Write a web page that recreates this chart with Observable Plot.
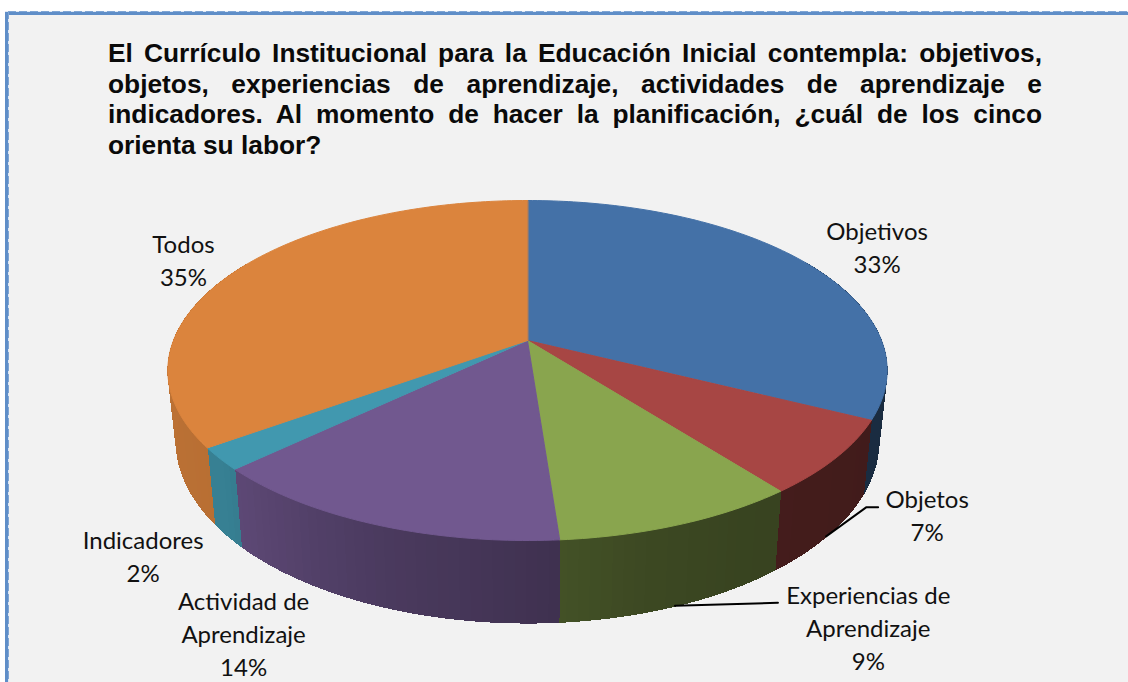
<!DOCTYPE html>
<html lang="es">
<head>
<meta charset="utf-8">
<script src="https://cdn.jsdelivr.net/npm/d3@7"></script>
<script src="https://cdn.jsdelivr.net/npm/@observablehq/plot@0.6"></script>
<style>
html,body{margin:0;padding:0;background:#fff;overflow:hidden;width:1128px;height:682px}
#frame{position:absolute;left:5px;top:11px;width:1123px;height:671px;box-sizing:border-box;
  border-left:4px solid #5f8ec8;border-top:4px solid #5f8ec8;background:#f2f2f2;overflow:hidden}
#dashT,#dashL{position:absolute;pointer-events:none}
#dashT{left:5px;top:11px;width:1123px;height:1px;background:repeating-linear-gradient(90deg,#dfe8f4 0 3px,#7fa5d4 3px 11px)}
#dashL{left:8px;top:11px;width:1px;height:671px;background:repeating-linear-gradient(0deg,#dfe8f4 0 3px,#7fa5d4 3px 11px)}
#title{position:absolute;left:108px;top:38px;width:934px;margin:0;font:bold 26.3px/30.6px "Liberation Sans",Arial,sans-serif;color:#0a0a0a}
#title span{display:block;text-align:justify;text-align-last:justify;white-space:nowrap}
#title span:last-child{text-align-last:left}
#chart{position:absolute;left:9px;top:190px}
#chart svg{display:block}
</style>
</head>
<body>
<div id="frame"></div>
<div id="dashT"></div>
<div id="dashL"></div>
<p id="title"><span>El Currículo Institucional para la Educación Inicial contempla: objetivos,</span><span>objetos, experiencias de aprendizaje, actividades de aprendizaje e</span><span>indicadores. Al momento de hacer la planificación, ¿cuál de los cinco</span><span>orienta su labor?</span></p>
<div id="chart"></div>
<script>
// Data
const categories = ["Objetivos", "Objetos", "Experiencias de\nAprendizaje", "Actividad de\nAprendizaje", "Indicadores", "Todos"];
const percents = [33, 7, 9, 14, 2, 35];

// Styles
const topColors = ["#4471a7", "#a74644", "#89a54e", "#71588f", "#4198af", "#db843d"];
const labelOffsets = [[70, -18], [99, 50], [197, 100], [-128, 109], [-77, 96], [-52, -12]];

// Perspective model of the tilted pie
const cx = 527, cy = 340, A = 354, A2 = 346, B = 164.7, p = 0.1765, D = 68;
const rad = t => t * Math.PI / 180;
// small correction for the picture's lens distortion
const warp = d3.scaleLinear().domain([0, 118.8, 144, 176.4, 226.8, 234, 360]).range([0, 116.5, 142, 175.7, 226.6, 234.2, 360]);
const rimTop = t => {
  const X = Math.sin(rad(t)), Z = Math.cos(rad(t)), d = 1 + p * Z;
  return {x: cx + A * X / d, y: cy - B * Z / d};
};
const rimBottom = t => {
  const X = Math.sin(rad(t)), Z = Math.cos(rad(t)), d = 1 + p * Z;
  return {x: cx + A2 * X / d, y: cy + (D - B * Z) / d};
};
const shade = d3.scaleLinear()
  .domain([60, 120, 150, 165, 176, 177, 200, 230, 270, 300])
  .range([0.36, 0.39, 0.41, 0.44, 0.49, 0.56, 0.66, 0.84, 0.86, 0.86]);
const darken = (c, k) => { const r = d3.rgb(c); return d3.rgb(r.r * k, r.g * k, r.b * k).formatHex(); };

const total = d3.sum(percents);
let cum = 0;
const slices = percents.map((v, i) => {
  const a0 = cum / total * 360; cum += v; const a1 = cum / total * 360;
  return {i, a0, a1, mid: (a0 + a1) / 2, color: topColors[i], label: `${categories[i]}\n${v}%`};
});

const wall = [], face = [];
for (const s of slices) {
  const lo = Math.max(s.a0, 60), hi = Math.min(s.a1, 300);
  for (let t = lo; t < hi; t += 1.5) {
    const u = Math.min(t + 1.5, hi), id = `w${s.i}-${t}`, fill = darken(s.color, shade((t + u) / 2));
    for (const q of [rimTop(warp(t)), rimTop(warp(u)), rimBottom(warp(u)), rimBottom(warp(t))]) wall.push({...q, id, fill});
  }
  const id = `f${s.i}`;
  face.push({x: cx, y: cy, id, fill: s.color});
  const n = Math.ceil(s.a1 - s.a0);
  for (let k = 0; k <= n; k++) face.push({...rimTop(warp(s.a0 + (s.a1 - s.a0) * k / n)), id, fill: s.color});
}

const rimAt = i => rimBottom(warp(slices[i].mid));
const leaders = [
  {id: "objetos", x: rimAt(1).x - 3, y: rimAt(1).y + 2},
  {id: "objetos", x: rimAt(1).x + 37, y: rimAt(1).y - 27},
  {id: "objetos", x: rimAt(1).x + 49, y: rimAt(1).y - 27},
  {id: "exp", x: rimAt(2).x - 2, y: rimAt(2).y},
  {id: "exp", x: rimAt(2).x + 101, y: rimAt(2).y - 3}
];

const polygon = (data, extra = {}) => Plot.line(data, {x: "x", y: "y", z: "id", fill: "fill", stroke: "fill", strokeWidth: 1, curve: "linear-closed", ...extra});

const chart = Plot.plot({
  width: 1119, height: 492,
  margin: 0,
  x: {domain: [9, 1128], range: [0, 1119], axis: null},
  y: {domain: [190, 682], range: [0, 492], axis: null},
  style: {background: "transparent", overflow: "visible"},
  marks: [
    polygon(wall, {shapeRendering: "crispEdges"}),
    polygon(face),
    Plot.line(leaders, {x: "x", y: "y", z: "id", stroke: "#000", strokeWidth: 2}),
    ...slices.map((s, i) => Plot.text([s], {
      x: d => rimTop(d.mid).x,
      y: d => rimTop(d.mid).y,
      text: "label",
      dx: labelOffsets[i][0],
      dy: labelOffsets[i][1],
      fontFamily: "Lato",
      fontSize: 24,
      lineHeight: 1.38,
      fill: "#111",
      textAnchor: "middle"
    }))
  ]
});
document.getElementById("chart").appendChild(chart);
</script>
</body>
</html>
